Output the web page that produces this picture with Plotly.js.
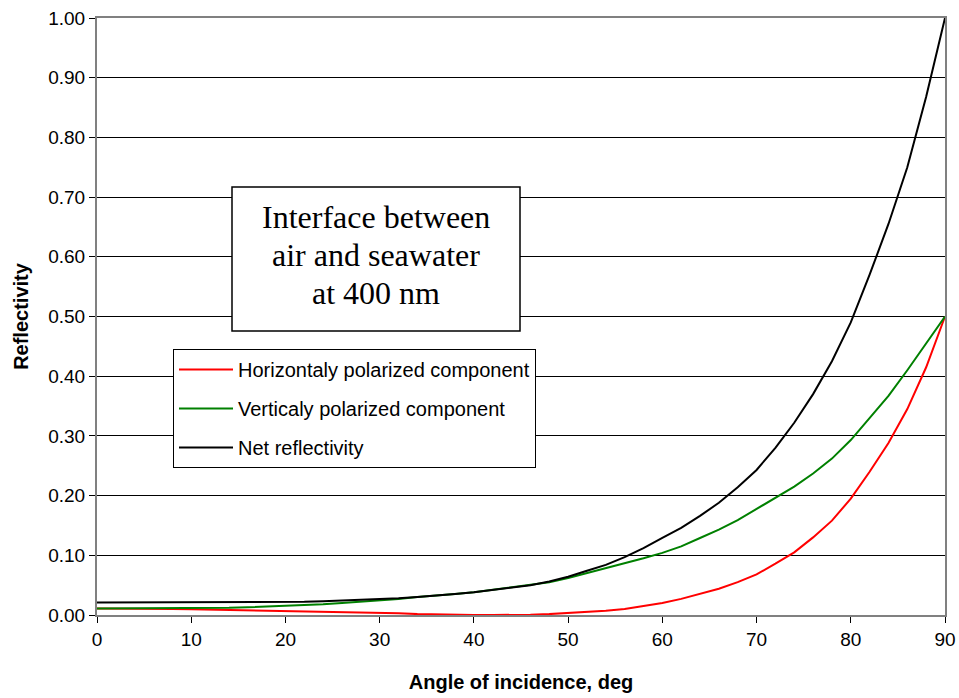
<!DOCTYPE html>
<html>
<head>
<meta charset="utf-8">
<script src="https://cdn.plot.ly/plotly-3.0.1.min.js"></script>
<style>
  html, body { margin: 0; padding: 0; background: #fff; }
  #chart { width: 959px; height: 698px; }
</style>
</head>
<body>
<div id="chart"></div>
<script>
// Angle of incidence, degrees
const angles = [0,2,4,6,8,10,12,14,16,18,20,22,24,26,28,30,32,34,36,38,40,42,44,46,48,50,52,54,56,58,60,62,64,66,68,70,72,74,76,78,80,82,84,86,88,90];

// Horizontaly polarized component (red)
const horizontal = [0.011,0.011,0.010,0.010,0.010,0.0095,0.009,0.0085,0.008,0.0075,0.007,0.006,0.0055,0.005,0.0045,0.004,0.003,0.0015,0.0008,0.0003,0.0,0.0,0.0,0.0005,0.0015,0.003,0.0045,0.007,0.010,0.015,0.020,0.027,0.035,0.044,0.055,0.068,0.086,0.105,0.130,0.158,0.195,0.240,0.288,0.345,0.415,0.500];

// Verticaly polarized component (green)
const vertical = [0.011,0.011,0.011,0.011,0.011,0.011,0.012,0.012,0.013,0.014,0.015,0.016,0.018,0.020,0.022,0.024,0.027,0.030,0.032,0.035,0.038,0.042,0.046,0.050,0.055,0.062,0.070,0.079,0.087,0.095,0.104,0.115,0.129,0.143,0.159,0.178,0.196,0.215,0.237,0.262,0.293,0.330,0.367,0.410,0.455,0.500];

// Net reflectivity (black)
const net = [0.021,0.021,0.021,0.021,0.021,0.021,0.021,0.021,0.021,0.021,0.022,0.022,0.023,0.024,0.025,0.026,0.028,0.030,0.032,0.035,0.038,0.042,0.046,0.050,0.056,0.064,0.074,0.084,0.097,0.112,0.129,0.146,0.166,0.188,0.214,0.243,0.280,0.322,0.370,0.425,0.490,0.570,0.655,0.750,0.868,1.000];

const seriesNames = ["Horizontaly polarized component", "Verticaly polarized component", "Net reflectivity"];
const xTickVals = [0,10,20,30,40,50,60,70,80,90];
const yTickVals = [0,0.1,0.2,0.3,0.4,0.5,0.6,0.7,0.8,0.9,1.0];
const yTickText = ["0.00","0.10","0.20","0.30","0.40","0.50","0.60","0.70","0.80","0.90","1.00"];
const boxLines = ["Interface between", "air and seawater", "at 400 nm"];

const sans = "Liberation Sans, Arial, sans-serif";
const serif = "Liberation Serif, Times New Roman, serif";

const traces = [
  {x: angles, y: horizontal, name: seriesNames[0], mode: "lines", line: {color: "#FF0000", width: 2}, legendgroup: "a"},
  {x: angles, y: vertical, name: seriesNames[1], mode: "lines", line: {color: "#008000", width: 2}, legendgroup: "b"},
  {x: angles, y: net, name: seriesNames[2], mode: "lines", line: {color: "#000000", width: 2}, legendgroup: "c"}
];

const L = 97, R = 945, T = 18, B = 615;
const px = v => (v - L) / (R - L);
const py = v => (B - v) / (B - T);

const annY = [217, 255, 293];
const annotations = boxLines.map((t, i) => ({
  xref: "paper", yref: "paper", x: px(376), y: py(annY[i]),
  xanchor: "center", yanchor: "middle", showarrow: false,
  text: t, font: {family: serif, size: 32, color: "#000"}
}));

const layout = {
  width: 959, height: 698,
  margin: {l: L, r: 959 - R, t: T, b: 698 - B},
  paper_bgcolor: "#fff", plot_bgcolor: "#fff",
  showlegend: true,
  font: {family: sans, color: "#000", size: 19},
  xaxis: {
    range: [0, 90], tickvals: xTickVals, ticks: "outside", ticklen: 6, tickcolor: "#000",
    showgrid: false, zeroline: false, showline: true, linecolor: "#808080", linewidth: 2, mirror: true,
    tickfont: {family: sans, size: 19, color: "#000"},
    title: {text: "Angle of incidence, deg", font: {family: sans, size: 20, color: "#000", weight: "bold"}, standoff: 26}
  },
  yaxis: {
    range: [0, 1.0], tickvals: yTickVals, ticktext: yTickText, ticks: "outside", ticklen: 6, tickcolor: "#000",
    showgrid: true, gridcolor: "#000", gridwidth: 1, zeroline: false,
    showline: true, linecolor: "#808080", linewidth: 2, mirror: true,
    tickfont: {family: sans, size: 19, color: "#000"},
    title: {text: "Reflectivity", font: {family: sans, size: 20, color: "#000", weight: "bold"}, standoff: 14}
  },
  legend: {
    x: px(173), y: py(349), xanchor: "left", yanchor: "top",
    bgcolor: "#fff", bordercolor: "#000", borderwidth: 1,
    font: {family: sans, size: 20, color: "#000"},
    traceorder: "grouped", tracegroupgap: 10, itemwidth: 54
  },
  shapes: [{
    type: "rect", xref: "paper", yref: "paper",
    x0: px(232), x1: px(520), y0: py(331), y1: py(187),
    line: {color: "#000", width: 1.5}, fillcolor: "#fff", layer: "above"
  }],
  annotations: annotations
};

Plotly.newPlot("chart", traces, layout, {displayModeBar: false, staticPlot: true});
</script>
</body>
</html>
